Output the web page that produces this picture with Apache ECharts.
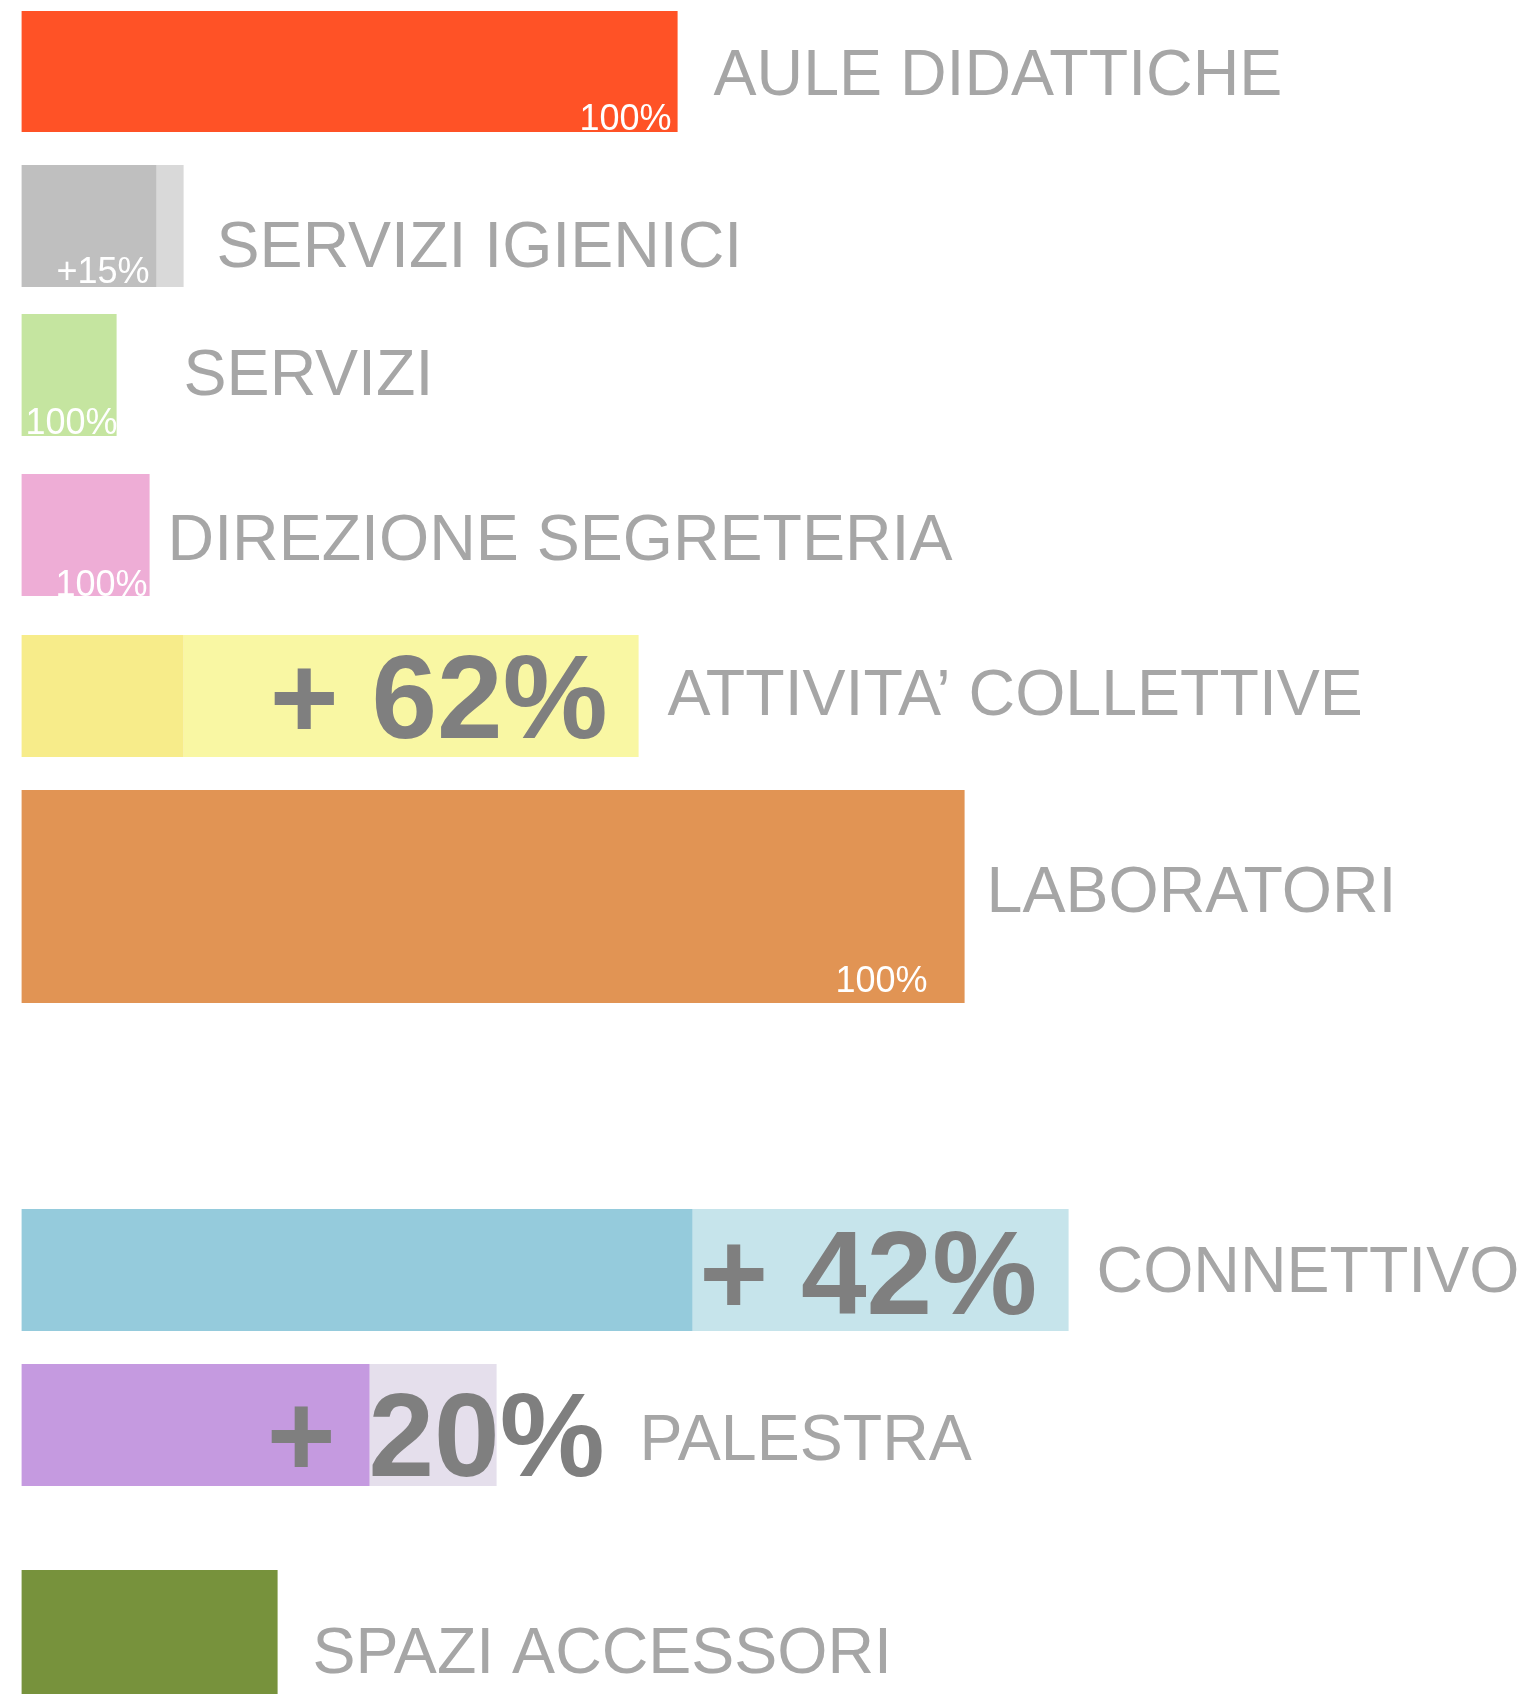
<!DOCTYPE html>
<html>
<head>
<meta charset="utf-8">
<style>
  html, body { margin: 0; padding: 0; background: #ffffff; }
  #chart { width: 1521px; height: 1694px; }
</style>
<script src="https://cdn.jsdelivr.net/npm/echarts@6/dist/echarts.min.js"></script>
</head>
<body>
<div id="chart"></div>
<script>
  // --- data ---
  const categories = ['AULE DIDATTICHE', 'SERVIZI IGIENICI', 'SERVIZI', 'DIREZIONE SEGRETERIA', 'ATTIVITA’ COLLETTIVE', 'LABORATORI', 'CONNETTIVO', 'PALESTRA', 'SPAZI ACCESSORI'];
  const baseValues = [656, 135, 95, 128, 162, 943, 671, 348, 256];
  const extraValues = [0, 27, 0, 0, 455, 0, 376, 127, 0];
  const smallLabels = ['100%', '+15%', '100%', '100%', '', '100%', '', '', ''];
  const bigLabels = ['', '', '', '', '+ 62%', '', '+ 42%', '+ 20%', ''];

  // --- layout (rows on the y value axis) ---
  const rowTop = [11, 165, 314, 474, 635, 790, 1209, 1364, 1570];
  const rowHeight = [121, 122, 122, 122, 122, 213, 122, 122, 124];
  const nameGap = [36, 33, 67, 18, 29, 22, 28, 143, 35];
  const nameDy = [5.5, 23, 2.5, 7, 1.5, -2, 4.5, 17, 23.5];
  const smallInset = [6, 7, -1, 2, 0, 37, 0, 0, 0];
  const smallUp = [12, 14, 12, 10, 0, 20.5, 0, 0, 0];
  const bigInset = [0, 0, 0, 0, 31, 0, 31.5, -108, 0];
  const bigDy = [0, 0, 0, 0, 9, 0, 11.5, 18.5, 0];

  // --- styles ---
  const baseColors = ['#FF5226', '#BFBFBF', '#C5E5A0', '#EEADD6', '#F7EC8A', '#E19454', '#95CBDC', '#C59AE0', '#77923C'];
  const extraColors = [null, '#D9D9D9', null, null, '#F9F7A3', null, '#C6E4EB', '#E5DFEC', null];
  const FONT = '"Liberation Sans", Arial, Helvetica, sans-serif';

  const chart = echarts.init(document.getElementById('chart'));

  const renderItem = (params, api) => {
    const i = params.dataIndex;
    const base = api.value(0);
    const extra = api.value(1);
    const top = api.coord([0, api.value(2)])[1];
    const bottom = api.coord([0, api.value(2) + api.value(3)])[1];
    const x0 = api.coord([0, 0])[0];
    const xBase = api.coord([base, 0])[0];
    const xEnd = api.coord([base + extra, 0])[0];
    const mid = (top + bottom) / 2;
    const children = [];

    if (extra > 0) {
      children.push({
        type: 'rect',
        shape: { x: xBase, y: top, width: xEnd - xBase, height: bottom - top },
        style: { fill: extraColors[i] }
      });
    }
    children.push({
      type: 'rect',
      shape: { x: x0, y: top, width: xBase - x0, height: bottom - top },
      style: { fill: baseColors[i] }
    });
    if (smallLabels[i]) {
      children.push({
        type: 'text',
        x: xBase - smallInset[i],
        y: bottom - smallUp[i],
        style: {
          text: smallLabels[i], fill: '#ffffff', font: '36px ' + FONT,
          textAlign: 'right', textVerticalAlign: 'middle', align: 'right', verticalAlign: 'middle'
        }
      });
    }
    if (bigLabels[i]) {
      children.push({
        type: 'text',
        x: xEnd - bigInset[i],
        y: mid + bigDy[i],
        style: {
          text: bigLabels[i], fill: '#7F7F7F', font: 'bold 118px ' + FONT,
          textAlign: 'right', textVerticalAlign: 'middle', align: 'right', verticalAlign: 'middle'
        }
      });
    }
    children.push({
      type: 'text',
      x: xEnd + nameGap[i],
      y: mid + nameDy[i],
      style: {
        text: categories[i], fill: '#A6A6A6', font: '64.5px ' + FONT,
        textAlign: 'left', textVerticalAlign: 'middle', align: 'left', verticalAlign: 'middle'
      }
    });
    return { type: 'group', children };
  };

  const option = {
    animation: false,
    backgroundColor: '#ffffff',
    grid: { left: 21.6, right: 0, top: 0, bottom: 0 },
    xAxis: { type: 'value', min: 0, max: 1499.4, show: false },
    yAxis: { type: 'value', min: 0, max: 1694, inverse: true, show: false },
    series: [
      {
        type: 'custom',
        renderItem: renderItem,
        clip: false,
        data: categories.map((c, i) => [baseValues[i], extraValues[i], rowTop[i], rowHeight[i]])
      }
    ]
  };

  chart.setOption(option);
</script>
</body>
</html>
